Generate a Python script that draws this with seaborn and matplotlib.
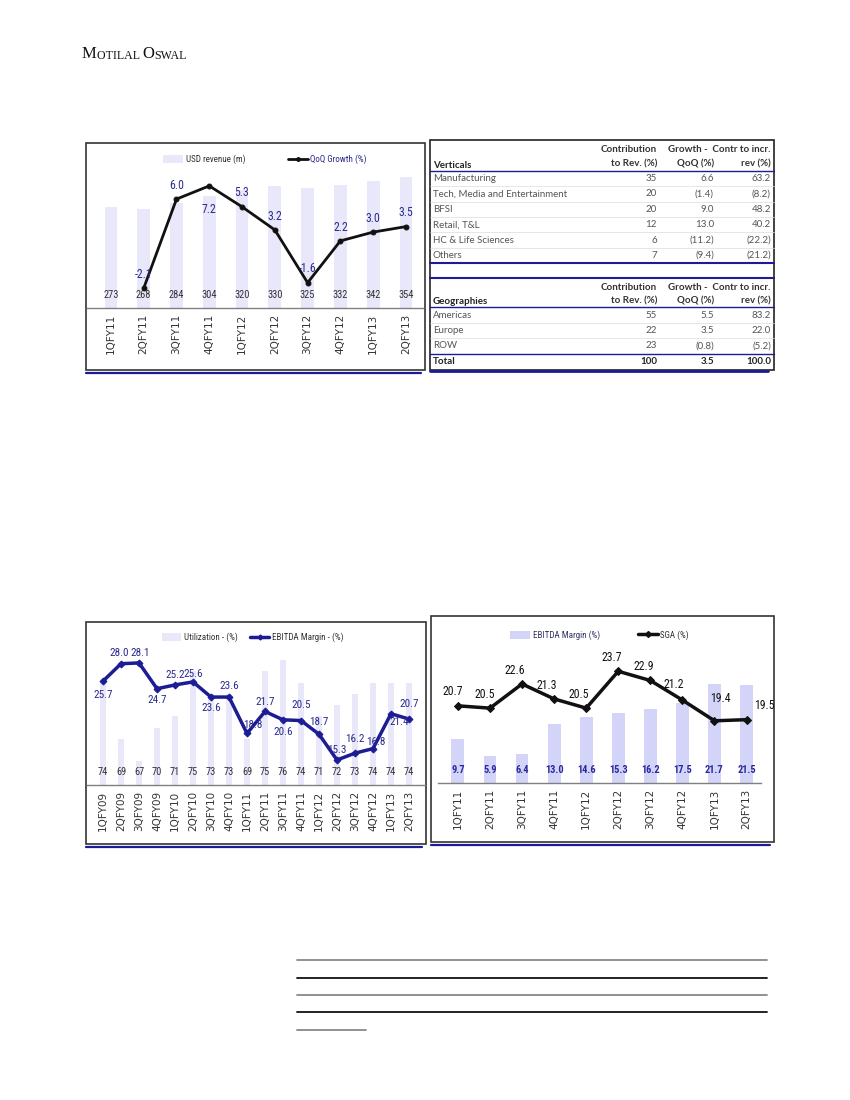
import numpy as np
import matplotlib
matplotlib.use('Agg')
import matplotlib.pyplot as plt
import seaborn as sns
from matplotlib.patches import Patch, Rectangle
from matplotlib.lines import Line2D

# ---- data ----
# revenue chart (top left)
rev_quarters = ['1QFY11', '2QFY11', '3QFY11', '4QFY11', '1QFY12',
                '2QFY12', '3QFY12', '4QFY12', '1QFY13', '2QFY13']
usd_revenue = [273, 268, 284, 304, 320, 330, 325, 332, 342, 354]
qoq_quarters = rev_quarters[1:]
qoq_growth = [-2.1, 6.0, 7.2, 5.3, 3.2, -1.6, 2.2, 3.0, 3.5]

# revenue mix table (top right)
verticals = ['Manufacturing', 'Tech, Media and Entertainment', 'BFSI',
             'Retail, T&L', 'HC & Life Sciences', 'Others']
vert_contrib = [35, 20, 20, 12, 6, 7]
vert_growth = [6.6, -1.4, 9.0, 13.0, -11.2, -9.4]
vert_incr = [63.2, -8.2, 48.2, 40.2, -22.2, -21.2]
geographies = ['Americas', 'Europe', 'ROW']
geo_contrib = [55, 22, 23]
geo_growth = [5.5, 3.5, -0.8]
geo_incr = [83.2, 22.0, -5.2]
total_row = ['Total', 100, 3.5, 100.0]

# utilization vs EBITDA margin (bottom left)
util_quarters = ['1QFY09', '2QFY09', '3QFY09', '4QFY09', '1QFY10', '2QFY10',
                 '3QFY10', '4QFY10', '1QFY11', '2QFY11', '3QFY11', '4QFY11',
                 '1QFY12', '2QFY12', '3QFY12', '4QFY12', '1QFY13', '2QFY13']
utilization = [74, 69, 67, 70, 71, 75, 73, 73, 69, 75, 76, 74, 71, 72, 73, 74, 74, 74]
ebitda_margin = [25.7, 28.0, 28.1, 24.7, 25.2, 25.6, 23.6, 23.6, 18.8, 21.7,
                 20.6, 20.5, 18.7, 15.3, 16.2, 16.8, 21.4, 20.7]

# EBITDA margin vs SGA (bottom right)
sga_quarters = rev_quarters
ebitda_bars = [9.7, 5.9, 6.4, 13.0, 14.6, 15.3, 16.2, 17.5, 21.7, 21.5]
sga_pct = [20.7, 20.5, 22.6, 21.3, 20.5, 23.7, 22.9, 21.2, 19.4, 19.5]

# label offsets (points) for the line values
qoq_offsets = [(0, 10), (0, 10), (0, -17), (0, 10), (0, 10), (0, 10), (0, 10), (0, 10), (0, 10)]
ebitda_offsets = [(0, -10), (-1, 8), (1, 7), (0, -8), (0, 7), (0, 6), (0, -8), (0, 8), (4, 6),
                  (0, 7), (0, -9), (0, 11), (0, 9), (0, 7), (0, 10.5), (2, 5), (6, -6), (0, 11)]
sga_offsets = [(-4, 10), (-4, 10), (-5, 10), (-5, 10), (-5, 10), (-5, 10), (-5, 10),
               (-6, 11), (4, 16), (13, 10)]

W, H = 850, 1100
NAVY = '#1c1c94'
LABEL_BLUE = '#2a2a8c'

sns.set_style('white')
plt.rcParams['font.family'] = ['DejaVu Sans']

fig = plt.figure(figsize=(W / 100, H / 100), dpi=100)
page = fig.add_axes([0, 0, 1, 1])
page.set_xlim(0, W)
page.set_ylim(H, 0)
page.axis('off')

NARROW = ['Liberation Sans Narrow', 'Roboto Condensed', 'DejaVu Sans']


def px_axes(x0, y0, x1, y1):
    ax = fig.add_axes([x0 / W, 1 - y1 / H, (x1 - x0) / W, (y1 - y0) / H])
    ax.set_facecolor('none')
    return ax


def fmt(v, dec=1):
    s = f"{abs(v):.{dec}f}"
    return f"({s})" if v < 0 else s


def chart_box(x0, y0, x1, y1):
    page.add_patch(Rectangle((x0, y0), x1 - x0, y1 - y0, fill=False,
                             edgecolor='#333333', lw=1.2))
    page.plot([x0, x1 - 4], [y1 + 3, y1 + 3], color=NAVY, lw=1.6)


def combo_chart(rect, cats, bar_vals, bar_color, bar_ylim, line_cats, line_vals,
                line_color, marker, ms, lw, line_ylim, xlim, bar_width,
                bar_label_color, bar_label_weight, line_label_color, offsets,
                legend_labels, legend_colors, legend_anchor, legend_gap,
                line_label_size=8.5):
    ax = px_axes(*rect)
    sns.barplot(x=cats, y=bar_vals, ax=ax, color=bar_color, saturation=1,
                width=bar_width, linewidth=0)
    ax.set_ylim(*bar_ylim)
    ax.set_xlim(*xlim)
    ax.set_yticks([])
    ax.set_xlabel('')
    ax.set_ylabel('')
    for s in ['top', 'right', 'left']:
        ax.spines[s].set_visible(False)
    ax.spines['bottom'].set_color('#808080')
    ax.spines['bottom'].set_linewidth(1)
    ax.tick_params(axis='x', length=0, pad=4, labelrotation=90,
                   labelsize=7.5, labelcolor='#333333')
    for i, v in enumerate(bar_vals):
        ax.annotate(fmt(v, 0 if isinstance(v, int) else 1), (i, bar_ylim[0]),
                    xytext=(0, 9.5), textcoords='offset points', ha='center',
                    va='center', fontsize=7.5, color=bar_label_color,
                    fontweight=bar_label_weight, family=NARROW)

    ax2 = ax.twinx()
    ax2.set_facecolor('none')
    xs = [cats.index(c) for c in line_cats]
    sns.lineplot(x=xs, y=line_vals, ax=ax2, color=line_color, lw=lw,
                 marker=marker, markersize=ms, markeredgecolor=line_color,
                 markerfacecolor=line_color)
    ax2.set_ylim(*line_ylim)
    ax2.set_xlim(*xlim)
    ax2.set_yticks([])
    ax2.set_ylabel('')
    for s in ax2.spines.values():
        s.set_visible(False)
    for x, v, off in zip(xs, line_vals, offsets):
        ax2.annotate(f"{v:.1f}", (x, v), xytext=off, textcoords='offset points',
                     ha='center', va='center', fontsize=line_label_size,
                     color=line_label_color, family=NARROW)

    handles = [Patch(facecolor=bar_color, edgecolor='none'),
               Line2D([], [], color=line_color, lw=lw, marker=marker, markersize=ms - 1)]
    leg = ax2.legend(handles, legend_labels, loc='center', bbox_to_anchor=legend_anchor,
                     ncol=2, frameon=False, prop={'family': NARROW, 'size': 6.5},
                     handlelength=2.2, handleheight=0.9, handletextpad=0.3,
                     columnspacing=legend_gap)
    for t, c in zip(leg.get_texts(), legend_colors):
        t.set_color(c)
    return ax, ax2


# ---- header ----
SERIF = 'Liberation Serif'
t = page.text(82, 58, 'M', family=SERIF, fontsize=12, color='#111111')
t = page.annotate('OTILAL ', (1, 0), xycoords=t, va='bottom', family=SERIF,
                  fontsize=8.6, color='#111111')
t = page.annotate('O', (1, 0), xycoords=t, va='bottom', family=SERIF,
                  fontsize=12, color='#111111')
page.annotate('SWAL', (1, 0), xycoords=t, va='bottom', family=SERIF,
              fontsize=8.6, color='#111111')

# ---- top left: revenue chart ----
chart_box(86, 143, 425, 370)
combo_chart((87, 143, 423, 308), rev_quarters, usd_revenue, '#e8e8fa', (0, 446),
            qoq_quarters, qoq_growth, '#111111', 'o', 3.5, 2.0, (-3.9, 11.1),
            (-0.73, 9.52), 0.39, '#333333', 'normal', LABEL_BLUE, qoq_offsets,
            ['USD revenue (m)', 'QoQ Growth (%)'], ['#333333', LABEL_BLUE],
            (0.53, 0.9), 4.7)

# ---- top right: table ----
TX0, TX1 = 430, 774
page.add_patch(Rectangle((TX0, 140), TX1 - TX0, 230, fill=False, edgecolor='#222222', lw=1.2))
col_x = [433, 657, 714, 771]
TFONT = ['Lato', 'DejaVu Sans']


def table_header(y_top, title):
    kw = dict(va='center', fontsize=7, fontweight='bold', color='#333333', family=TFONT)
    page.text(col_x[1], y_top + 10, 'Contribution', ha='right', **kw)
    page.text(col_x[1], y_top + 24, 'to Rev. (%)', ha='right', **kw)
    page.text(col_x[3], y_top + 10, 'Growth -  Contr to incr.', ha='right', **kw)
    page.text(col_x[2], y_top + 24, 'QoQ (%)', ha='right', **kw)
    page.text(col_x[3], y_top + 24, 'rev (%)', ha='right', **kw)
    page.text(col_x[0], y_top + 25, title, ha='left', va='center',
              fontsize=7, fontweight='bold', color='#222222', family=TFONT)


def table_rows(y_start, names, contrib, growth, incr, step=15.4):
    kw = dict(va='center', fontsize=7, color='#555555', family=TFONT)
    for i, (n, c, g, r) in enumerate(zip(names, contrib, growth, incr)):
        y = y_start + i * step
        page.text(col_x[0], y, n, ha='left', **kw)
        page.text(col_x[1], y, str(c), ha='right', **kw)
        page.text(col_x[2], y, fmt(g), ha='right', **kw)
        page.text(col_x[3], y, fmt(r), ha='right', **kw)
        if i < len(names) - 1:
            page.plot([TX0, TX1], [y + 7.7, y + 7.7], color='#dcdcdc', lw=0.5)


table_header(140, 'Verticals')
page.plot([TX0, TX1], [170.5, 170.5], color=NAVY, lw=1.0)
table_rows(178.5, verticals, vert_contrib, vert_growth, vert_incr)
page.plot([TX0, TX1], [262.5, 262.5], color=NAVY, lw=1.5)
page.plot([TX0, TX1], [278, 278], color=NAVY, lw=1.5)
table_header(277, 'Geographies')
page.plot([TX0, TX1], [307, 307], color=NAVY, lw=1.0)
table_rows(315, geographies, geo_contrib, geo_growth, geo_incr)
page.plot([TX0, TX1], [353.5, 353.5], color=NAVY, lw=1.0)
tkw = dict(va='center', fontsize=7, fontweight='bold', color='#222222', family=TFONT)
page.text(col_x[0], 362, total_row[0], ha='left', **tkw)
page.text(col_x[1], 362, str(total_row[1]), ha='right', **tkw)
page.text(col_x[2], 362, fmt(total_row[2]), ha='right', **tkw)
page.text(col_x[3], 362, fmt(total_row[3]), ha='right', **tkw)
page.plot([TX0, TX1 - 6], [371, 371], color=NAVY, lw=2.0)

# ---- bottom left: utilization vs EBITDA margin ----
chart_box(86, 622, 426, 844)
combo_chart((87, 622, 425, 785), util_quarters, utilization, '#e8e8fa', (64.9, 79.4),
            util_quarters, ebitda_margin, NAVY, 'D', 3.5, 2.5, (12.0, 33.5),
            (-0.89, 17.89), 0.37, '#333333', 'normal', LABEL_BLUE, ebitda_offsets,
            ['Utilization - (%)', 'EBITDA Margin - (%)'], ['#333333', '#333333'],
            (0.49, 0.905), 1.3, line_label_size=8)

# ---- bottom right: EBITDA margin vs SGA ----
chart_box(431, 616, 774, 842)
combo_chart((438, 616, 761, 783), sga_quarters, ebitda_bars, '#d4d4f8', (0, 36.7),
            sga_quarters, sga_pct, '#111111', 'D', 4, 2.5, (14.0, 28.5),
            (-0.62, 9.45), 0.4, '#2a2aa0', 'bold', '#111111', sga_offsets,
            ['EBITDA Margin (%)', 'SGA (%)'], ['#333366', '#333333'],
            (0.5, 0.885), 4.2)

# ---- footer rules ----
for y, c in [(960, '#888888'), (977.5, '#111111'), (995, '#888888'), (1012, '#111111')]:
    page.plot([297, 767], [y, y], color=c, lw=1.3)
page.plot([297, 366], [1029.5, 1029.5], color='#888888', lw=1.3)

fig.savefig('out.png', dpi=100)
